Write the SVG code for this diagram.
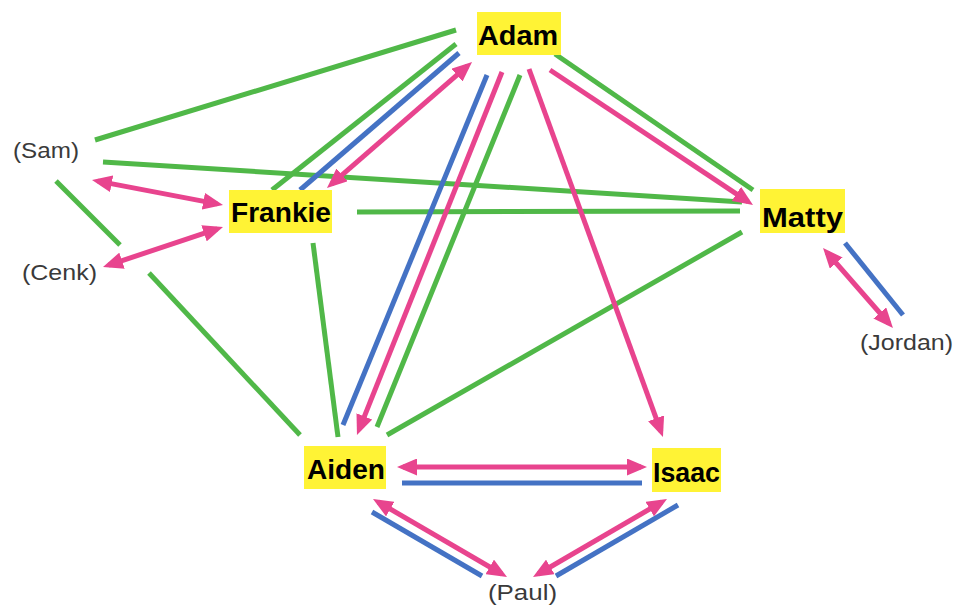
<svg xmlns="http://www.w3.org/2000/svg" width="959" height="610" viewBox="0 0 959 610">
  <style>
    .g { stroke: #50b848; stroke-width: 5; fill: none; }
    .b { stroke: #4472c4; stroke-width: 5; fill: none; }
    .p { stroke: #e8448e; stroke-width: 5; fill: none; }
    .one { marker-end: url(#ah); }
    .two { marker-start: url(#ah); marker-end: url(#ah); }
    .box { fill: #fff335; }
    .name { font-family: "Liberation Sans", Arial, sans-serif; font-weight: bold; font-size: 28px; fill: #000; }
    .guest { font-family: "Liberation Sans", Arial, sans-serif; font-size: 22px; fill: #3a3a3a; }
  </style>
  <defs>
    <marker id="ah" viewBox="0 0 20 17" refX="14" refY="8.5" markerWidth="20" markerHeight="17" markerUnits="userSpaceOnUse" orient="auto-start-reverse">
      <path d="M0,0 L20,8.5 L0,17 z" fill="#e8448e"/>
    </marker>
  </defs>
  <rect width="959" height="610" fill="#fff"/>

  <g id="connectors">
    <!-- green -->
    <line class="g" x1="95" y1="140" x2="456" y2="30"/>
    <line class="g" x1="103" y1="162" x2="742" y2="202"/>
    <line class="g" x1="357" y1="212" x2="740" y2="211"/>
    <line class="g" x1="56" y1="181" x2="120" y2="245"/>
    <line class="g" x1="149" y1="273" x2="300" y2="435"/>
    <line class="g" x1="313" y1="243" x2="338" y2="437"/>
    <line class="g" x1="272" y1="190" x2="456" y2="44"/>
    <line class="g" x1="520" y1="75" x2="377" y2="427"/>
    <line class="g" x1="555" y1="54" x2="753" y2="190"/>
    <line class="g" x1="742" y1="232" x2="387" y2="435"/>
    <!-- blue -->
    <line class="b" x1="300" y1="190" x2="459" y2="53"/>
    <line class="b" x1="487" y1="75" x2="343" y2="425"/>
    <line class="b" x1="402" y1="483" x2="642" y2="483"/>
    <line class="b" x1="372" y1="512" x2="482" y2="576"/>
    <line class="b" x1="678" y1="505" x2="556" y2="576"/>
    <line class="b" x1="845" y1="243" x2="903" y2="315"/>
    <!-- pink -->
    <line class="p two" x1="97.9" y1="181.1" x2="217.1" y2="203.9"/>
    <line class="p two" x1="108.7" y1="265.1" x2="217.3" y2="228.9"/>
    <line class="p two" x1="331.5" y1="184.1" x2="467.5" y2="65.9"/>
    <line class="p one" x1="502" y1="72" x2="359.2" y2="429.4"/>
    <line class="p one" x1="529" y1="69" x2="660.9" y2="431.4"/>
    <line class="p one" x1="550" y1="70" x2="748" y2="201.7"/>
    <line class="p two" x1="403" y1="467" x2="641" y2="467"/>
    <line class="p two" x1="378.2" y1="502" x2="501.8" y2="574"/>
    <line class="p two" x1="661.8" y1="502" x2="538.2" y2="574"/>
    <line class="p two" x1="827" y1="252.5" x2="889" y2="323.5"/>
  </g>

  <g id="adam">
    <rect class="box" x="477" y="12" width="84" height="43"/>
    <text class="name" x="478" y="45" textLength="80" lengthAdjust="spacingAndGlyphs">Adam</text>
  </g>
  <g id="frankie">
    <rect class="box" x="229" y="190" width="103" height="43"/>
    <text class="name" x="231" y="222" textLength="100" lengthAdjust="spacingAndGlyphs">Frankie</text>
  </g>
  <g id="matty">
    <rect class="box" x="760" y="189" width="85" height="44"/>
    <text class="name" x="762" y="227" textLength="81" lengthAdjust="spacingAndGlyphs">Matty</text>
  </g>
  <g id="aiden">
    <rect class="box" x="304" y="446" width="82" height="43"/>
    <text class="name" x="307" y="479" textLength="78" lengthAdjust="spacingAndGlyphs">Aiden</text>
  </g>
  <g id="isaac">
    <rect class="box" x="652" y="448" width="69" height="44"/>
    <text class="name" x="653" y="482" textLength="67" lengthAdjust="spacingAndGlyphs">Isaac</text>
  </g>
  <g id="sam">
    <text class="guest" x="13" y="158" textLength="66" lengthAdjust="spacingAndGlyphs">(Sam)</text>
  </g>
  <g id="cenk">
    <text class="guest" x="22" y="280" textLength="75" lengthAdjust="spacingAndGlyphs">(Cenk)</text>
  </g>
  <g id="jordan">
    <text class="guest" x="860" y="350" textLength="93" lengthAdjust="spacingAndGlyphs">(Jordan)</text>
  </g>
  <g id="paul">
    <text class="guest" x="488" y="600" textLength="69" lengthAdjust="spacingAndGlyphs">(Paul)</text>
  </g>
</svg>
